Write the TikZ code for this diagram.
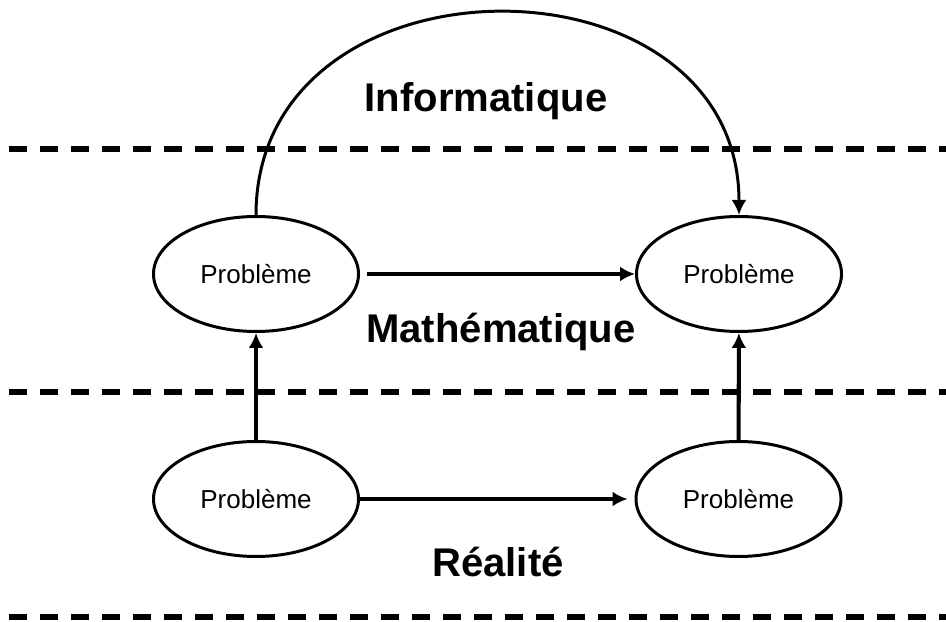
\documentclass[tikz,border=0pt]{standalone}
\usepackage{fontspec}
\setmainfont{Liberation Sans}
\usetikzlibrary{shapes.geometric,arrows.meta}
\begin{document}
\begin{tikzpicture}[line width=2.3pt,>={Latex[length=0.3cm,width=0.3cm]}]
  \useasboundingbox (0,0) rectangle (18.92,12.42);
  \foreach \y in {9.44,4.58,0.08}
    \draw[line width=2.9pt,dash pattern=on 0.36cm off 0.26cm] (0.18,\y) -- (18.92,\y);

  \begin{scope}[every node/.style={ellipse,line width=1.7pt,draw,fill=white,inner sep=0pt,
      minimum width=4.1cm,minimum height=2.3cm,font=\fontsize{14.8}{17}\selectfont}]
    \node (M1) at (5.12,6.94) {Problème};
    \node (M2) at (14.78,6.94) {Problème};
    \node (R1) at (5.12,2.44) {Problème};
    \node (R2) at (14.77,2.44) {Problème};
  \end{scope}

  \begin{scope}[every node/.style={anchor=base,font=\bfseries\fontsize{22.8}{27}\selectfont}]
    \node (I) at (9.72,10.18) {Informatique};
    \node (M) at (10.02,5.56) {Mathématique};
    \node (R) at (9.96,0.88) {Réalité};
  \end{scope}

  \draw[->,shorten <=0.14cm] (M1) --  (M2);
  \draw[->,shorten >=0.14cm] (R1) --  (R2);
  \draw[->] (R1) --  (M1);
  \draw[->] (R2) --  (M2);
  \draw[->,line width=1.7pt] (M1.north) .. controls +(0,5.39) and +(0,5.39) .. (M2.north);
\end{tikzpicture}
\end{document}
